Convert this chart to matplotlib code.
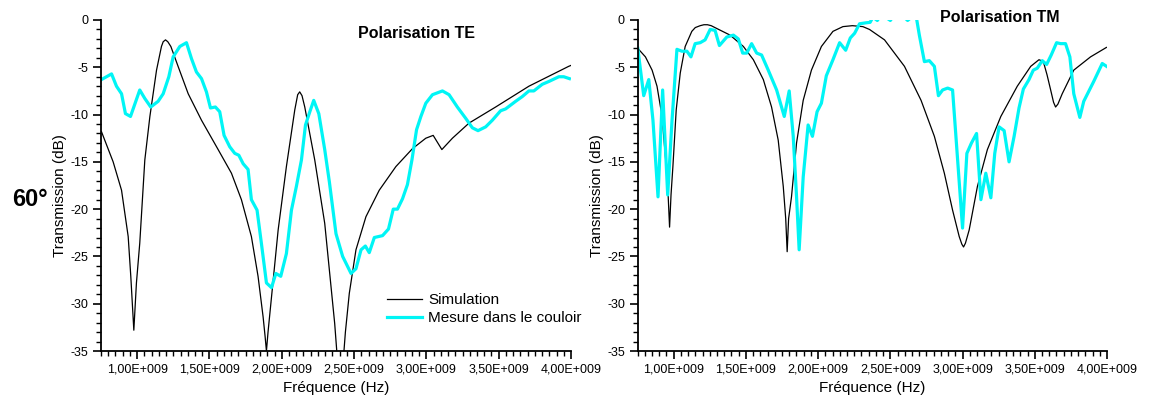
import matplotlib
matplotlib.use("Agg")
import matplotlib.pyplot as plt
from matplotlib.ticker import MultipleLocator, FuncFormatter

plt.rcParams['font.family'] = ['Liberation Sans', 'DejaVu Sans']
plt.rcParams['axes.unicode_minus'] = False

# ---------------- data (frequency in GHz, transmission in dB) ----------------
te_sim_f = [0.753, 0.834, 0.892, 0.938, 0.956, 0.977, 0.995, 1.018, 1.053, 1.088,
            1.134, 1.168, 1.18, 1.196, 1.212, 1.233, 1.283, 1.353, 1.445, 1.56,
            1.652, 1.721, 1.79, 1.836, 1.871, 1.885, 1.894, 1.905, 1.929, 1.975,
            2.032, 2.09, 2.11, 2.124, 2.14, 2.159, 2.228, 2.297, 2.366, 2.405,
            2.44, 2.467, 2.513, 2.582, 2.674, 2.789, 2.904, 2.996, 3.047, 3.107,
            3.18, 3.295, 3.479, 3.709, 3.984, 4.0]
te_sim_db = [-11.8, -15.0, -18.0, -22.9, -27.1, -32.8, -27.8, -23.6, -14.8, -10.2,
             -5.3, -2.8, -2.3, -2.1, -2.3, -2.8, -4.9, -7.8, -10.6, -13.7,
             -16.2, -19.0, -22.9, -27.1, -31.4, -33.5, -35.0, -33.0, -29.3, -22.2,
             -15.5, -9.5, -7.9, -7.6, -8.0, -9.2, -14.8, -21.5, -32.1, -40.0,
             -33.0, -28.9, -24.3, -20.8, -18.0, -15.5, -13.6, -12.5, -12.2, -13.7,
             -12.5, -10.9, -9.2, -7.0, -4.9, -4.8]

te_mes_f = [0.753, 0.823, 0.857, 0.892, 0.919, 0.954, 1.018, 1.053, 1.094, 1.145,
            1.18, 1.219, 1.249, 1.295, 1.341, 1.376, 1.41, 1.445, 1.479, 1.507,
            1.541, 1.571, 1.601, 1.64, 1.675, 1.703, 1.733, 1.767, 1.79, 1.829,
            1.859, 1.894, 1.929, 1.959, 1.993, 2.032, 2.067, 2.101, 2.136, 2.164,
            2.194, 2.221, 2.256, 2.297, 2.329, 2.375, 2.421, 2.479, 2.513, 2.548,
            2.578, 2.605, 2.64, 2.697, 2.738, 2.771, 2.8, 2.835, 2.869, 2.9,
            2.932, 2.962, 2.996, 3.042, 3.111, 3.157, 3.214, 3.272, 3.318, 3.357,
            3.41, 3.456, 3.513, 3.548, 3.617, 3.663, 3.709, 3.743, 3.801, 3.847,
            3.916, 3.95, 3.989]
te_mes_db = [-6.3, -5.7, -7.0, -7.8, -9.9, -10.2, -7.4, -8.3, -9.2, -8.6,
             -7.8, -6.0, -3.9, -2.8, -2.4, -4.1, -5.5, -6.2, -7.6, -9.3,
             -9.2, -9.7, -12.2, -13.4, -14.1, -14.3, -15.2, -15.8, -19.0, -20.1,
             -23.6, -27.8, -28.3, -26.8, -27.1, -24.7, -20.1, -17.6, -14.8, -11.1,
             -9.7, -8.5, -9.9, -13.7, -17.1, -22.6, -25.0, -26.8, -26.3, -24.3,
             -23.9, -24.6, -23.0, -22.8, -22.1, -20.0, -20.0, -18.9, -17.4, -14.8,
             -11.6, -10.2, -8.8, -7.9, -7.5, -7.9, -9.2, -10.4, -11.4, -11.7,
             -11.3, -10.6, -9.6, -9.4, -8.6, -8.1, -7.5, -7.5, -6.8, -6.5,
             -6.0, -6.0, -6.2]

tm_sim_f = [0.752, 0.805, 0.851, 0.885, 0.92, 0.949, 0.962, 0.972, 0.982, 0.995,
            1.018, 1.046, 1.08, 1.126, 1.15, 1.184, 1.21, 1.234, 1.26, 1.299,
            1.391, 1.483, 1.552, 1.621, 1.678, 1.724, 1.759, 1.776, 1.786, 1.796,
            1.816, 1.851, 1.897, 1.954, 2.023, 2.103, 2.172, 2.237, 2.31, 2.356,
            2.46, 2.598, 2.713, 2.805, 2.874, 2.931, 2.977, 2.995, 3.007, 3.02,
            3.046, 3.103, 3.172, 3.265, 3.379, 3.472, 3.529, 3.545, 3.563, 3.585,
            3.61, 3.63, 3.644, 3.66, 3.69, 3.77, 3.886, 3.996]
tm_sim_db = [-3.0, -3.9, -5.3, -7.0, -10.2, -15.5, -18.5, -21.9, -18.5, -15.5,
             -9.5, -5.6, -2.8, -1.2, -0.8, -0.6, -0.5, -0.5, -0.6, -0.9,
             -1.6, -2.8, -4.2, -6.3, -9.2, -12.7, -17.6, -21.0, -24.5, -21.0,
             -18.7, -13.0, -8.5, -5.3, -2.8, -1.2, -0.7, -0.6, -0.7, -1.0,
             -2.1, -4.9, -8.5, -12.3, -16.2, -20.1, -22.9, -23.7, -24.0, -23.6,
             -22.2, -17.6, -13.7, -10.2, -7.0, -4.9, -4.2, -4.3, -4.6, -5.8,
             -7.4, -8.7, -9.2, -8.9, -7.8, -5.3, -3.9, -2.9]

tm_mes_f = [0.752, 0.793, 0.828, 0.857, 0.892, 0.924, 0.959, 0.989, 1.023, 1.057,
            1.092, 1.12, 1.149, 1.184, 1.218, 1.253, 1.287, 1.317, 1.368, 1.414,
            1.448, 1.478, 1.506, 1.54, 1.575, 1.609, 1.655, 1.713, 1.766, 1.8,
            1.828, 1.851, 1.869, 1.897, 1.931, 1.961, 1.993, 2.023, 2.057, 2.103,
            2.149, 2.191, 2.223, 2.253, 2.287, 2.33, 2.36, 2.38, 2.41, 2.44,
            2.50, 2.55, 2.62, 2.655, 2.68, 2.701, 2.736, 2.77, 2.805, 2.833,
            2.862, 2.897, 2.931, 2.966, 3.0, 3.03, 3.062, 3.097, 3.127, 3.161,
            3.196, 3.223, 3.253, 3.288, 3.322, 3.357, 3.391, 3.421, 3.46, 3.49,
            3.517, 3.552, 3.582, 3.614, 3.651, 3.679, 3.713, 3.743, 3.77, 3.812,
            3.839, 3.908, 3.967, 3.997]
tm_mes_db = [-3.0, -8.0, -6.3, -10.6, -18.7, -7.4, -18.5, -10.6, -3.1, -3.3,
             -3.3, -3.9, -2.5, -2.4, -2.1, -1.0, -1.1, -2.7, -1.8, -1.6,
             -2.0, -3.5, -3.5, -2.5, -3.5, -3.7, -5.3, -7.4, -10.2, -7.5,
             -12.3, -18.7, -24.3, -16.6, -11.1, -12.3, -9.7, -8.8, -5.9, -4.2,
             -2.4, -3.2, -1.9, -1.4, -0.4, -0.3, -0.25, 0.3, -0.05, 0.6,
             -0.05, 1.0, -0.05, 0.4, 0.3, -1.6, -4.4, -4.3, -4.9, -8.0,
             -7.4, -7.2, -7.4, -14.8, -22.0, -14.1, -13.0, -12.0, -19.0, -16.2,
             -18.8, -14.1, -11.3, -11.7, -15.0, -12.3, -9.3, -7.3, -6.3, -5.3,
             -5.1, -4.3, -4.7, -3.7, -2.4, -2.5, -2.5, -3.9, -7.8, -10.3,
             -8.6, -6.5, -4.6, -4.9]

series_labels = ["Simulation", "Mesure dans le couloir"]
panel_titles = ["Polarisation TE", "Polarisation TM"]
angle_label = "60°"
x_label = "Fréquence (Hz)"
y_label = "Transmission (dB)"

# ---------------- figure ----------------
W, H = 1150, 399
fig = plt.figure(figsize=(W / 100, H / 100), dpi=100)


def px_axes(x0, x1, y0, y1):
    return fig.add_axes([x0 / W, 1 - y1 / H, (x1 - x0) / W, (y1 - y0) / H])


def style(ax):
    ax.set_xlim(0.75e9, 4.0e9)
    ax.set_ylim(-35, 0)
    for s in ('top', 'right'):
        ax.spines[s].set_visible(False)
    for s in ('left', 'bottom'):
        ax.spines[s].set_linewidth(1.3)
    ax.xaxis.set_major_locator(MultipleLocator(0.5e9))
    ax.xaxis.set_minor_locator(MultipleLocator(0.05e9))
    ax.yaxis.set_major_locator(MultipleLocator(5))
    ax.yaxis.set_minor_locator(MultipleLocator(1))
    ax.xaxis.set_major_formatter(FuncFormatter(
        lambda v, p: ("%.2f" % (v / 1e9)).replace('.', ',') + "E+009"))
    ax.yaxis.set_major_formatter(FuncFormatter(lambda v, p: "%d" % round(v)))
    ax.tick_params(which='major', direction='out', length=6, width=1.2,
                   labelsize=9, pad=3)
    ax.tick_params(which='minor', direction='out', length=3.5, width=1.0)
    ax.set_xlabel(x_label, fontsize=11, labelpad=4)
    ax.set_ylabel(y_label, fontsize=11)
    w = ax.get_position().width * W
    ax.yaxis.set_label_coords(-34 / w, 0.471)


cyan = '#00F5F5'

ax1 = px_axes(101, 571, 20, 351)
style(ax1)
ax1.plot([f * 1e9 for f in te_sim_f], te_sim_db, color='black', lw=0.9,
         label=series_labels[0])
ax1.plot([f * 1e9 for f in te_mes_f], te_mes_db, color=cyan, lw=2.3,
         label=series_labels[1])
ax1.text(417, H - 33, panel_titles[0], transform=None, fontsize=11.5,
         fontweight='bold', ha='center', va='center')
ax1.legend(loc='lower left', bbox_to_anchor=(0.595, 0.06), frameon=False,
           fontsize=11, handlelength=2.3, handletextpad=0.4, labelspacing=0.25,
           borderaxespad=0)

ax2 = px_axes(637.5, 1107, 20, 351)
style(ax2)
ax2.plot([f * 1e9 for f in tm_sim_f], tm_sim_db, color='black', lw=0.9)
ax2.plot([f * 1e9 for f in tm_mes_f], tm_mes_db, color=cyan, lw=2.3)
ax2.text(1000, H - 18, panel_titles[1], transform=None, fontsize=11.5,
         fontweight='bold', ha='center', va='center')

fig.text(29.5 / W, 1 - 200 / H, angle_label, fontsize=17, fontweight='bold',
         ha='center', va='center')

fig.savefig("out.png", dpi=100)
